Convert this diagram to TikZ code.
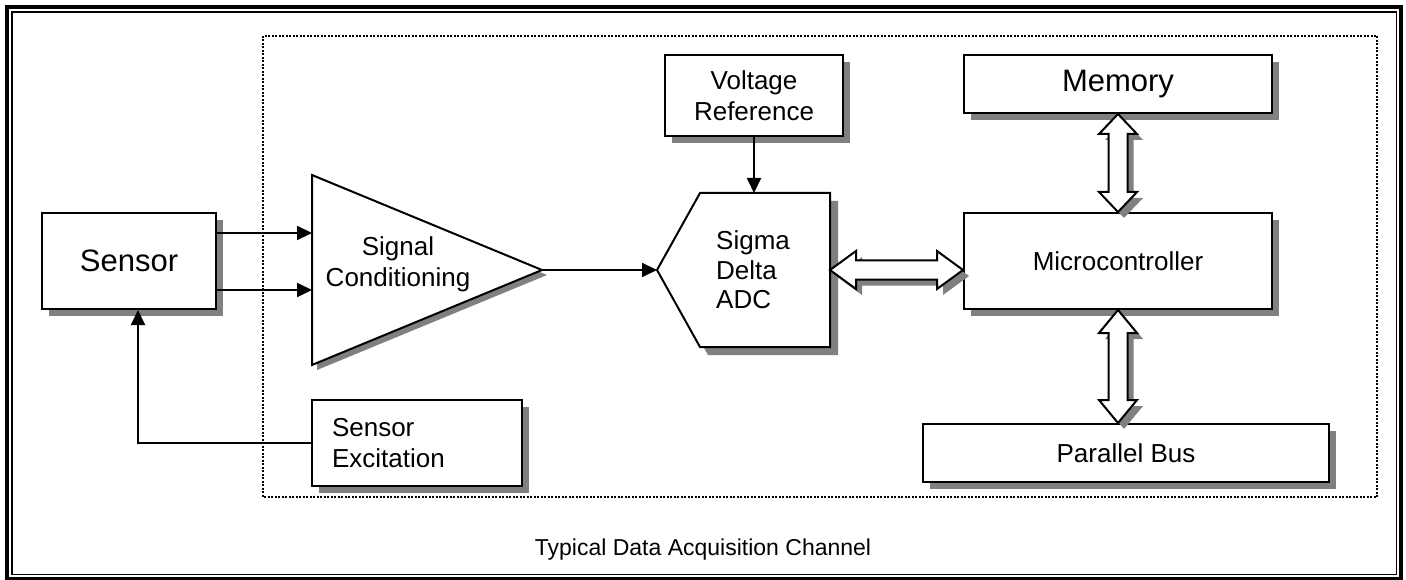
\documentclass[tikz,border=0pt]{standalone}
\usepackage{fontspec}
\setmainfont{Liberation Sans}
\usetikzlibrary{arrows.meta,shadows,calc}
\definecolor{shadowgray}{RGB}{128,128,128}
\newcommand{\mydblH}[3]{%
  \draw[bigarrow] let \p1=(#1), \p2=(#2) in
    (\p1) -- (\x1+#3,\y1+19pt) -- (\x1+#3,\y1+9.5pt) -- (\x2-#3,\y1+9.5pt)
    -- (\x2-#3,\y1+19pt) -- (\p2) -- (\x2-#3,\y1-19pt) -- (\x2-#3,\y1-9.5pt)
    -- (\x1+#3,\y1-9.5pt) -- (\x1+#3,\y1-19pt) -- cycle;}
\newcommand{\mydblV}[3]{%
  \draw[bigarrow] let \p1=(#1), \p2=(#2) in
    (\p1) -- (\x1+19pt,\y1-#3) -- (\x1+9.5pt,\y1-#3) -- (\x1+9.5pt,\y2+#3)
    -- (\x1+19pt,\y2+#3) -- (\p2) -- (\x1-19pt,\y2+#3) -- (\x1-9.5pt,\y2+#3)
    -- (\x1-9.5pt,\y1-#3) -- (\x1-19pt,\y1-#3) -- cycle;}
\begin{document}
\begin{tikzpicture}[x=1pt,y=-1pt,
  shad/.style={drop shadow={shadow xshift=7pt,shadow yshift=-7pt,fill=shadowgray,opacity=1}},
  box/.style={draw=black,line width=2pt,fill=white,inner sep=0pt,shad},
  lbl/.style={font=\fontsize{26}{31}\selectfont,align=center},
  big/.style={font=\fontsize{31}{37}\selectfont},
  conn/.style={line width=2pt,-{Triangle[length=15pt,width=14pt]}},
  bigarrow/.style={draw=black,line width=2pt,fill=white,line join=miter,
    drop shadow={shadow xshift=6pt,shadow yshift=-6pt,fill=shadowgray,opacity=1}}
]
\useasboundingbox (0,0) rectangle (1406,580);
\fill[white] (0,0) rectangle (1406,580);
% frame
\draw[line width=4pt] (7,7) rectangle (1401,578.5);
\draw[line width=1.5pt] (12,12) rectangle (1396.5,574.5);
% dotted region
\draw[line width=1.5pt,dash pattern=on 2pt off 1.5pt] (263,36) rectangle (1377,497);

% boxes
\node[box,big,minimum width=174pt,minimum height=96pt] (sensor) at (129,261) {Sensor};
\node[box,lbl,minimum width=178pt,minimum height=81pt] (vref) at (754,95.5) {Voltage\\Reference};
\node[box,big,minimum width=308pt,minimum height=58pt] (memory) at (1118,84) {Memory};
\node[box,lbl,minimum width=308pt,minimum height=96pt] (micro) at (1118,261) {Microcontroller};
\node[box,lbl,minimum width=406pt,minimum height=58pt] (pbus) at (1126,453) {Parallel Bus};
\node[box,font=\fontsize{26}{31}\selectfont,align=left,text width=170pt,inner xsep=20pt,
      minimum height=86pt] (sexc) at (417,443) {Sensor\\Excitation};

% signal conditioning amplifier
\draw[line width=2pt,fill=white,line join=miter,
      drop shadow={shadow xshift=5pt,shadow yshift=-5pt,fill=shadowgray,opacity=1}]
  (312,175) -- (542,270) -- (312,365) -- cycle;
\node[lbl] (sctext) at (398,264) {Signal\\Conditioning};
\coordinate (sc1) at (312,233);
\coordinate (sc2) at (312,290);
\coordinate (scOut) at (542,270);

% sigma delta ADC
\draw[line width=2pt,fill=white,line join=miter,
      drop shadow={shadow xshift=8pt,shadow yshift=-8pt,fill=shadowgray,opacity=1}]
  (657,270) -- (700,193) -- (830,193) -- (830,347) -- (700,347) -- cycle;
\node[font=\fontsize{26}{29.5}\selectfont,align=left,anchor=west,inner sep=0pt] (adctext) at (716,270) {Sigma\\Delta\\ADC};
\coordinate (adcL) at (657,270);
\coordinate (adcE) at (830,270);
\coordinate (adcN) at (754,193);

\coordinate (sensorIn) at ([xshift=9pt]sensor.south);

% connectors
\draw[conn] (sensor.east |- sc1) -- (sc1);
\draw[conn] (sensor.east |- sc2) -- (sc2);
\draw[conn] (scOut) -- (adcL);
\draw[conn] (vref.south) -- (adcN);
\draw[conn] (sexc.west) -| (sensorIn);

% bus arrows
\mydblH{adcE}{micro.west |- adcE}{26pt}
\mydblV{memory.south}{micro.north}{20pt}
\mydblV{micro.south}{pbus.north -| micro.south}{23pt}

% caption
\node[font=\fontsize{23}{27}\selectfont] (caption) at (703,550) {Typical Data Acquisition Channel};
\end{tikzpicture}
\end{document}
